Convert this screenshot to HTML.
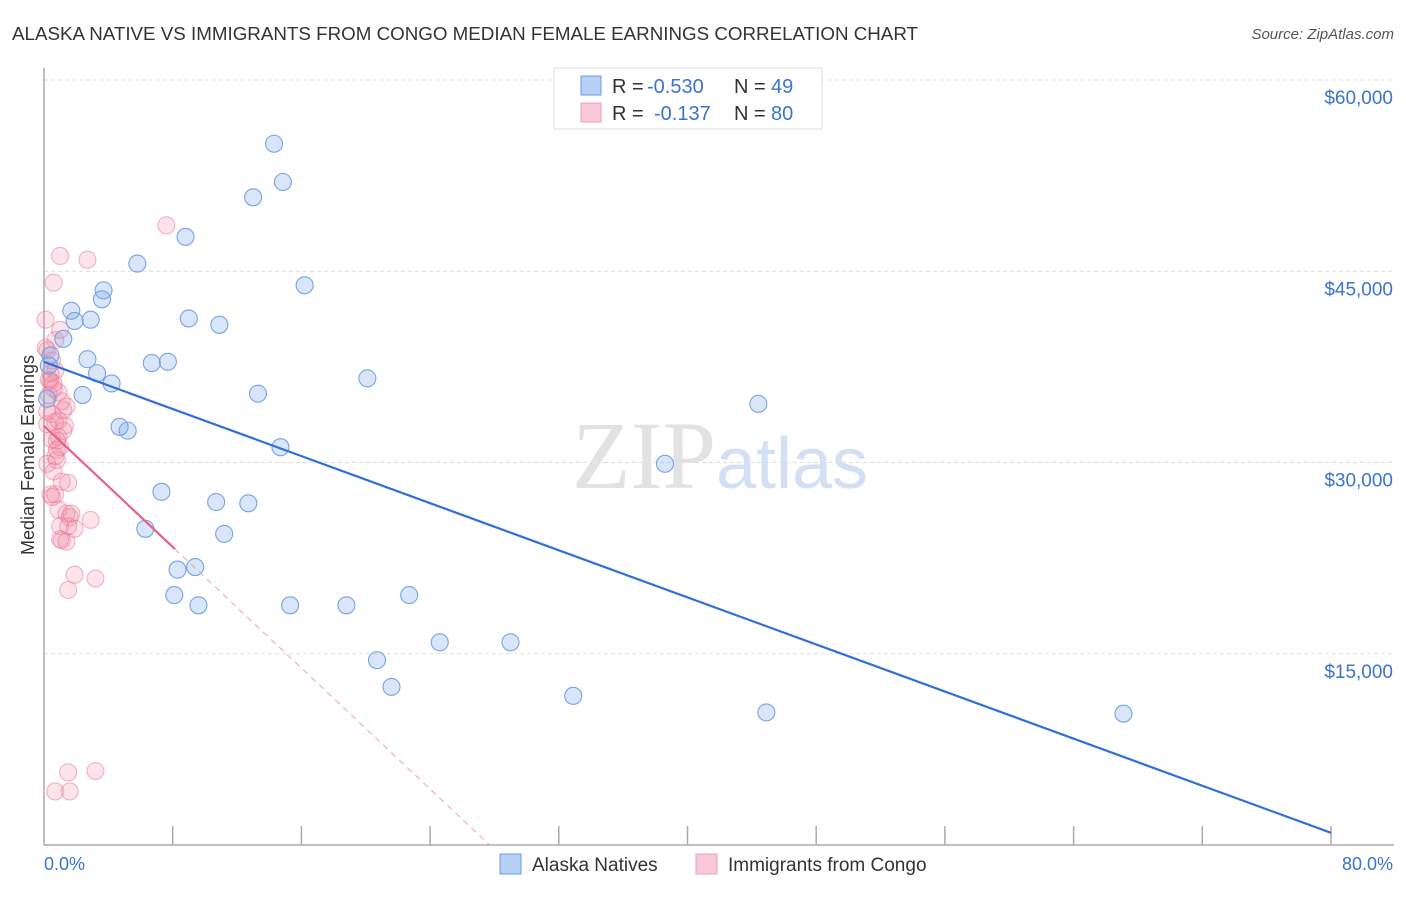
<!DOCTYPE html>
<html><head><meta charset="utf-8">
<style>
body{margin:0;background:#fff;font-family:"Liberation Sans",sans-serif;}
svg text{font-family:"Liberation Sans",sans-serif;}
</style></head>
<body>
<svg width="1406" height="892" xmlns="http://www.w3.org/2000/svg">
<text x="12" y="40" font-size="18" fill="#333" textLength="906" lengthAdjust="spacingAndGlyphs">ALASKA NATIVE VS IMMIGRANTS FROM CONGO MEDIAN FEMALE EARNINGS CORRELATION CHART</text>
<text x="1394" y="39" font-size="15" fill="#555" text-anchor="end" font-style="italic">Source: ZipAtlas.com</text>
<g id="grid"></g>
<text x="720" y="488" font-size="96" text-anchor="middle"><tspan fill="#e2e2e2" font-family="Liberation Serif">ZIP</tspan><tspan fill="#d3e0f3" font-size="72">atlas</tspan></text>
<g id="axes"></g>
<g id="pinkDots"></g>
<g id="blueDots"></g>
<g id="lines"></g>
<text transform="translate(34,455) rotate(-90)" font-size="18" fill="#333" text-anchor="middle">Median Female Earnings</text>
<text x="44" y="870" font-size="18" fill="#3b73d1">0.0%</text>
<text x="1393" y="870" font-size="18" fill="#3b73d1" text-anchor="end">80.0%</text>
<g>
<rect x="554" y="68" width="268" height="61" fill="#fff" stroke="#ddd"/>
<rect x="581" y="76" width="20" height="19" fill="#b7d0f5" stroke="#6a9be0"/>
<text x="612" y="93" font-size="20" fill="#333">R =</text>
<text x="647" y="93" font-size="20" fill="#3b73d1">-0.530</text>
<text x="734" y="93" font-size="20" fill="#333">N =</text>
<text x="771" y="93" font-size="20" fill="#3b73d1">49</text>
<rect x="581" y="103" width="20" height="19" fill="#f9c8d6" stroke="#f0a0b8"/>
<text x="612" y="120" font-size="20" fill="#333">R =</text>
<text x="654" y="120" font-size="20" fill="#3b73d1">-0.137</text>
<text x="734" y="120" font-size="20" fill="#333">N =</text>
<text x="771" y="120" font-size="20" fill="#3b73d1">80</text>
</g>
<g>
<rect x="500" y="854" width="21" height="20" fill="#b7d0f5" stroke="#6a9be0"/>
<text x="532" y="871" font-size="19" fill="#333">Alaska Natives</text>
<rect x="696" y="854" width="21" height="20" fill="#f9c8d6" stroke="#f0a0b8"/>
<text x="728" y="871" font-size="19" fill="#333">Immigrants from Congo</text>
</g>
</svg>
<script>
const yTicks=[15000,30000,45000,60000];
const yTickLabels=["$15,000","$30,000","$45,000","$60,000"];
const xTicks=[0,8,16,24,32,40,48,56,64,72,80];
const blueX=[14.3,14.85,13.0,8.8,5.8,16.2,1.7,3.7,3.6,1.9,2.9,9.0,10.9,1.2,2.7,6.7,7.7,3.3,4.2,20.1,2.4,13.3,44.4,4.7,5.2,14.7,38.6,7.3,10.7,12.7,11.2,6.3,8.3,9.4,8.1,9.6,15.3,18.8,22.7,24.6,29.0,20.7,21.6,32.9,44.9,67.1,0.4,0.3,0.2];
const blueY=[55000,52000,50800,47700,45600,43900,41900,43500,42800,41100,41200,41300,40800,39700,38100,37800,37900,37000,36200,36600,35300,35400,34600,32800,32500,31200,29900,27700,26900,26800,24400,24800,21600,21800,19600,18800,18800,18800,19600,15900,15900,14500,12400,11700,10400,10300,38400,37600,35000];
const pinkX=[7.6,1.0,2.7,0.6,0.1,1.0,0.7,0.2,0.5,0.7,0.4,0.9,1.1,1.4,0.2,0.7,1.2,0.5,1.0,0.7,0.2,0.6,1.1,1.5,0.7,0.4,0.9,1.4,1.6,2.9,1.0,1.5,1.9,1.1,1.4,1.9,3.2,1.5,1.5,3.2,0.7,1.6,0.1,0.5,0.9,0.3,0.6,0.8,1.2,0.4,0.8,1.3,0.3,0.6,0.9,1.7,0.5,1.0,0.2,0.8];
const pinkY=[48600,46200,45900,44100,41200,40400,39600,38800,38000,37200,36400,35500,34800,34400,34000,33200,32500,31800,31200,30500,29900,29300,28500,28400,27500,27500,26300,26000,25700,25500,25000,25000,24800,23900,23800,21200,20900,20000,5700,5800,4200,4200,39000,33800,32000,36500,35800,31000,34100,37000,30200,32900,35300,36200,33300,26000,27300,24000,33000,31700];
const blueTrend=[37890,955];
const pinkTrend=[32870,0];
const pinkSolidEnd=8.14, pinkZeroAt=27.7;

const X=p=>44+p*1287/80;
const Y=v=>80+(60000-v)*765/60000;
const NS="http://www.w3.org/2000/svg";
function mk(tag,attrs,parent){const e=document.createElementNS(NS,tag);for(const k in attrs)e.setAttribute(k,attrs[k]);parent.appendChild(e);return e;}
const grid=document.getElementById('grid'),axes=document.getElementById('axes');
yTicks.forEach((v,i)=>{
  const l=mk('line',{x1:44,x2:1394,y1:Y(v),y2:Y(v),stroke:'#ddd','stroke-dasharray':'4,3'},grid);
  
  
  const t=mk('text',{x:1393,y:Y(v)+24,'font-size':19,fill:'#3b73d1','text-anchor':'end'},grid);
  t.textContent=yTickLabels[i];
  
  
});
const ya=mk('line',{x1:44,x2:44,y1:68,y2:845,stroke:'#aaa','stroke-width':1.5},axes);


const xa=mk('line',{x1:44,x2:1394,y1:845,y2:845,stroke:'#aaa','stroke-width':1.5},axes);


xTicks.forEach(p=>{if(p===0)return;
  const t=mk('line',{x1:X(p),x2:X(p),y1:826,y2:845,stroke:'#aaa','stroke-width':1.5},axes);
  
  
});
const pg=document.getElementById('pinkDots');
pinkX.forEach((p,i)=>{
  const c=mk('circle',{cx:X(p),cy:Y(pinkY[i]),r:8.5,fill:'rgba(240,130,160,0.22)',stroke:'rgba(235,120,155,0.55)','stroke-width':1.1},pg);
  
  
});
const bg=document.getElementById('blueDots');
blueX.forEach((p,i)=>{
  const c=mk('circle',{cx:X(p),cy:Y(blueY[i]),r:8.5,fill:'rgba(120,165,235,0.28)',stroke:'#77a3e3','stroke-width':1.1},bg);
  
  
});
const lg=document.getElementById('lines');
const bl=mk('line',{x1:X(0),y1:Y(blueTrend[0]),x2:X(80),y2:Y(blueTrend[1]),stroke:'#2f6fd6','stroke-width':2.2},lg);


const pv=p=>pinkTrend[0]+(pinkTrend[1]-pinkTrend[0])*p/pinkZeroAt;
const pl=mk('line',{x1:X(0),y1:Y(pv(0)),x2:X(pinkSolidEnd),y2:Y(pv(pinkSolidEnd)),stroke:'#e8608a','stroke-width':2.2},lg);


const pd=mk('line',{x1:X(pinkSolidEnd),y1:Y(pv(pinkSolidEnd)),x2:X(pinkZeroAt),y2:Y(0),stroke:'#e8a0b5','stroke-width':1,'stroke-dasharray':'6,5'},lg);


</script>
</body></html>
